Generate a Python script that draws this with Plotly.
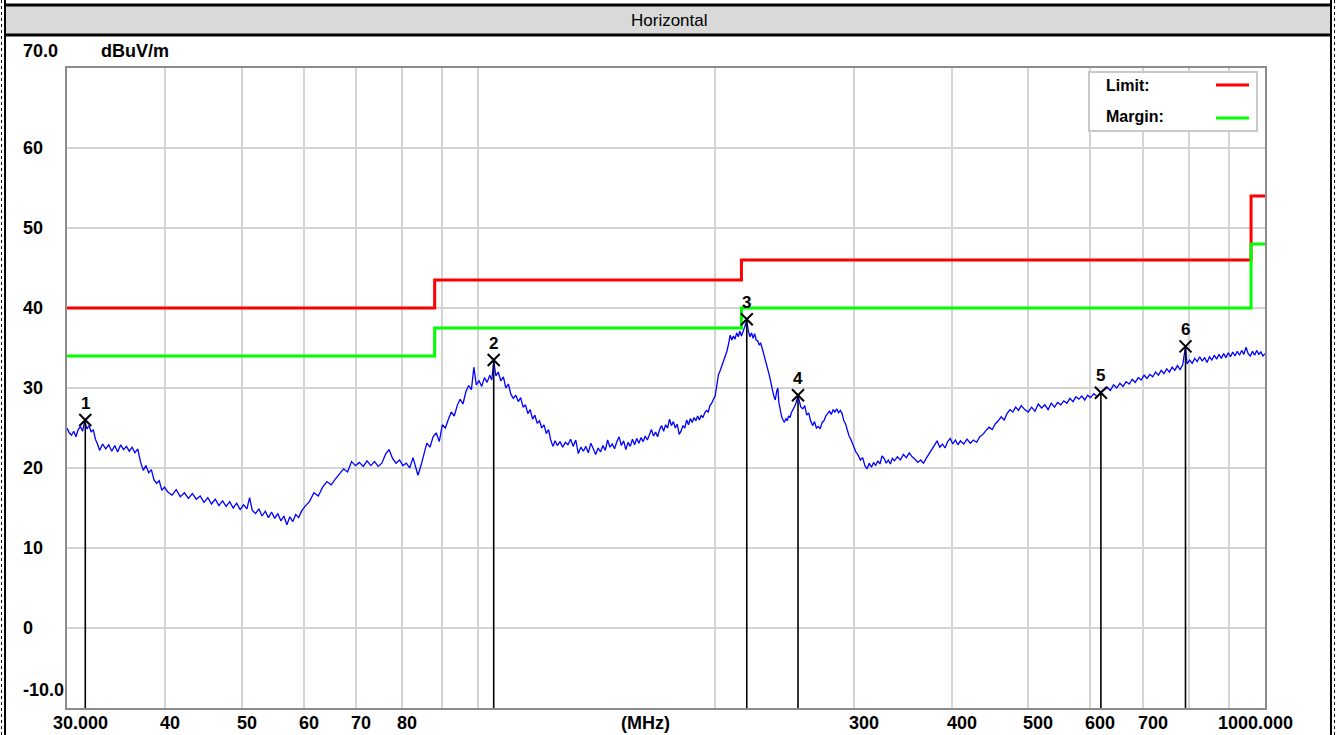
import math
import plotly.graph_objects as go

# ---------------- data ----------------
limit_freq = [30, 88, 216, 960, 1000]
limit_level = [40, 43.5, 46, 54, 54]
margin_level = [34, 37.5, 40, 48, 48]

marker_freq = [31.65, 104.6, 219.4, 254.9, 618.6, 792.4]
marker_level = [26.0, 33.5, 38.6, 29.1, 29.4, 35.2]
marker_labels = ["1", "2", "3", "4", "5", "6"]

x_grid = [40, 50, 60, 70, 80, 90, 100, 200, 300, 400, 500, 600, 700, 800, 900]
x_tick_vals = [30, 40, 50, 60, 70, 80, 300, 400, 500, 600, 700, 1000]
x_tick_text = ["30.000", "40", "50", "60", "70", "80", "300", "400", "500", "600", "700", "1000.000"]
y_grid = [-10, 0, 10, 20, 30, 40, 50, 60, 70]
y_tick_vals = [70, 60, 50, 40, 30, 20, 10, 0, -10]
y_tick_text = ["70.0", "60", "50", "40", "30", "20", "10", "0", "-10.0"]

trace_freq = [
    30.0, 30.2, 30.4, 30.6, 30.8, 31.0, 31.2, 31.4, 31.6, 31.8,
    32.0, 32.2, 32.4, 32.6, 32.8, 33.0, 33.3, 33.6, 33.9, 34.2,
    34.5, 34.8, 35.1, 35.4, 35.7, 36.0, 36.3, 36.6, 36.9, 37.2,
    37.5, 37.8, 38.1, 38.4, 38.7, 39.0, 39.3, 39.6, 39.9,
    40.3, 40.8, 41.3, 41.8, 42.3, 42.8, 43.3, 43.8, 44.3, 44.8,
    45.3, 45.8, 46.3, 46.8, 47.3, 47.8, 48.3, 48.8, 49.3, 49.8,
    50.3, 50.8, 51.2, 51.6, 52.1, 52.6, 53.1, 53.6, 54.1, 54.6,
    55.1, 55.6, 56.1, 56.6, 57.1, 57.6, 58.1, 58.6, 59.1, 59.6,
    60.2, 61.0, 61.8, 62.6, 63.4, 64.2, 65.0, 65.8, 66.6, 67.4,
    68.2, 69.0, 69.8, 70.6, 71.4, 72.2, 73.0, 73.8, 74.6, 75.4,
    76.2, 77.0, 77.8, 78.6, 79.4, 80.2, 81.0, 81.8, 82.6, 83.4,
    83.8, 84.6, 85.2, 86.0, 86.8, 87.6, 88.4,
    89.2, 90.0, 90.8, 91.6, 92.4, 93.2, 94.0, 94.8, 95.6, 96.4,
    97.2, 98.0, 98.7, 99.4, 100.2, 101.0, 101.8, 102.6, 103.4, 104.0,
    104.6, 105.3, 106.0, 106.8, 107.6, 108.4, 109.2, 110.0, 110.8, 111.6,
    112.4, 113.2, 114.0, 114.8, 115.6, 116.4, 117.2, 118.0, 118.8, 119.6,
    120.4, 121.2, 122.0, 122.8, 123.6, 124.4, 125.2, 126.0,
    127, 128, 129, 130, 131, 132, 133, 134, 135, 136,
    137, 138, 139, 140, 141, 142, 143, 144, 145, 146,
    147, 148, 149, 150, 151, 152, 153, 154, 155, 156,
    157, 158, 159, 160, 161, 162, 163, 164, 165, 166,
    167, 168, 169, 170, 171, 172, 173, 174, 175, 176,
    177, 178, 179, 180, 181, 182, 183, 184, 185, 186,
    187, 188, 189, 190, 191, 192, 193, 194, 195, 196,
    197, 198, 199, 200, 201, 202, 203, 204, 205, 206,
    207, 208, 209, 210, 211, 212, 213, 214, 215, 216,
    217.0, 218.0, 219.4, 220.5, 221.5, 222.5, 223.5, 224.5, 225.5, 226.5,
    227.5, 228.5, 229.5, 230.5, 231.5, 232.5, 233.5, 234.5, 235.5, 236.5,
    237.5, 238.5, 239.5, 240.3, 241.0, 242.0, 243.0, 244.0, 245.0, 246.0,
    247.0, 248.0, 249.0, 250.0, 251.0, 252.0, 253.0, 254.0, 255.0, 256.0,
    257.0, 258.5, 260.0, 261.5, 263.0, 264.5, 266.0, 267.5, 269.0, 270.5,
    272.0, 273.5, 275.0, 276.5, 278.0, 279.5, 281.0, 282.5, 284.0, 285.5,
    287.0, 288.5, 290.0, 291.5, 293.0, 294.5, 296.0, 297.5, 299.0, 300.5,
    302, 304, 306, 308, 310, 312, 314, 316, 318, 320,
    322, 324, 326, 328, 330, 332, 334, 336, 338, 341,
    344, 347, 350, 353, 356, 359, 362, 365, 368, 371,
    374, 377, 380, 383, 386, 389, 392, 395, 398, 401,
    404, 407, 410, 414, 418, 422, 426, 430, 434, 438,
    442, 446, 450, 454, 458, 462, 466, 470, 474, 478,
    482, 486, 490, 495, 500, 505, 510, 515, 520, 525,
    530, 535, 540, 545, 550, 555, 560, 565, 570, 575,
    580, 585, 590, 595, 600, 606, 612, 618, 624, 630,
    636, 642, 648, 654, 660, 666, 672, 678, 684, 690,
    696, 702, 708, 714, 720, 726, 732, 738, 744, 750,
    756, 762, 768, 774, 780, 786, 792.4, 796, 802, 808,
    814, 820, 826, 832, 838, 844, 850, 856, 862, 868,
    874, 880, 886, 892, 898, 904, 910, 916, 922, 928,
    934, 940, 946, 952, 958, 964, 970, 976, 982, 988,
    994, 1000,
]

trace_level = [
    25.0, 24.4, 24.1, 24.6, 23.9, 24.8, 25.2, 24.6, 25.9, 24.9,
    25.3, 24.5, 24.8, 23.6, 23.0, 22.2, 23.0, 22.4, 22.9, 22.1,
    22.8, 22.0, 22.9, 22.3, 22.7, 22.1, 22.6, 21.9, 22.4, 20.8,
    19.7, 20.3, 19.4, 19.8, 18.5, 18.1, 18.4, 17.2, 17.6,
    17.0, 16.6, 17.3, 16.4, 16.9, 16.2, 16.8, 16.1, 16.5, 15.7,
    16.3, 15.5, 16.1, 15.3, 15.9, 15.2, 15.8, 15.0, 15.6, 14.8,
    15.4, 14.9, 16.3, 14.7, 14.3, 14.9, 14.0, 14.6, 13.8, 14.5,
    13.7, 14.3, 13.4, 14.0, 12.9, 13.9, 13.3, 14.2, 13.8, 14.6,
    15.2, 15.8, 16.9, 16.5, 17.6, 18.3, 17.9, 18.6, 19.3, 19.9,
    19.5, 20.8, 20.3, 20.7, 20.2, 20.9, 20.3, 20.8, 20.2, 20.6,
    21.7, 22.3, 21.2, 20.6, 21.0, 20.3, 20.6, 20.0, 21.3, 19.9,
    19.1, 20.4, 21.6, 23.1, 22.6, 23.9, 24.4,
    23.3, 25.4, 25.0, 26.1, 27.0, 26.5, 27.8, 28.6, 28.0, 29.5,
    30.3, 29.8, 32.6, 30.4, 30.9, 30.2, 31.3, 30.7, 31.6, 31.0,
    33.3, 31.5, 32.0, 30.9, 31.4, 30.0, 30.5, 29.2, 28.7, 29.1,
    28.3, 28.8, 27.6, 27.9, 26.8, 27.3, 26.1, 26.6, 25.6, 25.9,
    25.0, 25.4, 24.3, 24.8, 23.5, 22.7, 23.4, 22.8,
    23.3, 22.6, 23.2, 22.9, 23.6, 22.7, 23.5, 21.8, 22.6, 22.1,
    22.7, 21.9, 23.1, 22.4, 21.7, 22.5, 22.0, 22.8, 22.2, 23.5,
    22.6, 23.0, 22.4, 23.3, 23.9, 22.8, 23.4, 22.3, 23.2, 22.7,
    23.6, 22.9, 23.7, 23.1, 23.8, 23.3, 24.0, 23.5, 24.2, 24.8,
    24.0, 24.5, 23.9, 24.8, 25.3, 24.6, 25.4, 25.0, 26.1, 25.3,
    25.8, 25.0, 25.5, 24.2, 24.6, 25.3, 25.0, 26.0, 25.4, 26.2,
    25.7, 26.3, 25.9, 26.5, 26.0, 26.6, 26.3, 26.9, 27.2, 27.0,
    27.8, 28.1, 28.6, 29.0, 30.4, 31.7, 32.2, 32.8, 33.4, 34.0,
    34.6, 35.5, 36.6, 36.0, 36.5, 36.1, 36.9, 36.4, 37.1, 36.5,
    37.2, 37.6, 38.4, 37.0, 36.4, 36.9, 36.2, 36.8, 36.0, 35.9,
    35.4, 35.6, 35.0, 34.2, 33.4, 32.9, 32.2, 31.5, 30.4, 29.8,
    29.0, 28.5, 29.6, 30.0, 28.2, 27.3, 26.4, 26.0, 25.7, 26.2,
    25.9, 26.5, 26.3, 26.9, 27.2, 27.6, 27.9, 28.5, 29.0, 28.3,
    27.6, 27.4, 27.8, 26.6, 26.9, 25.9, 25.3, 25.8, 25.0, 25.2,
    24.9, 25.7, 25.9, 26.5, 26.8, 27.1, 26.7, 27.3, 27.0, 27.4,
    26.9, 27.2, 26.8, 25.9, 25.5, 24.6, 24.0, 23.6, 23.1, 22.5,
    22.0, 21.6, 21.0, 21.3, 20.3, 19.9, 20.6, 20.1, 20.7, 20.3,
    20.9, 20.5, 21.5, 21.2, 20.6, 21.0, 20.5, 21.2, 20.9, 21.4,
    21.0, 21.7, 21.3, 21.9, 21.4, 21.1, 20.7, 21.0, 20.6, 21.2,
    21.8, 22.3, 22.9, 23.4, 22.6, 23.0, 22.5, 23.3, 23.7, 23.0,
    23.5, 22.9, 23.4, 23.0, 23.6, 23.1, 23.5, 23.2, 23.9, 24.2,
    24.7, 25.1, 24.8, 25.5, 25.9, 26.4, 26.0, 26.8, 27.3, 27.0,
    27.6, 27.2, 27.8, 27.3, 27.0, 27.6, 27.1, 28.0, 27.5, 27.9,
    27.3, 28.1, 27.6, 28.2, 27.9, 28.4, 28.1, 28.7, 28.3, 28.9,
    28.6, 29.0, 28.5, 29.1, 28.8, 29.3, 28.9, 29.5, 29.8, 30.1,
    29.7, 30.4, 30.0, 30.6, 30.2, 30.8, 30.5, 31.1, 30.7, 31.3,
    31.0, 31.6, 31.2, 31.7, 31.4, 32.0, 31.6, 32.2, 31.8, 32.4,
    32.0, 32.6, 32.2, 32.8, 32.3, 32.9, 35.2, 33.0, 33.5, 33.1,
    33.7, 33.3, 33.9, 33.4, 33.8, 33.2, 33.9, 33.5, 34.1, 33.6,
    34.2, 33.7, 34.3, 33.8, 34.4, 33.9, 34.5, 34.0, 34.6, 34.1,
    34.7, 34.2, 35.1, 34.3, 34.0, 34.6, 34.1, 34.7, 34.2, 34.5,
    34.0, 34.3,
]

# ---------------- layout constants ----------------
W, H = 1338, 735
L, R, T, B = 67, 73, 68, 27
PW, PH = W - L - R, H - T - B
FONT = "Liberation Sans, Arial, sans-serif"
LABEL_SIZE = 18


def px(xp):
    return (xp - L) / PW


def py(yp):
    return (H - B - yp) / PH


fig = go.Figure()

# measurement trace
fig.add_trace(go.Scatter(x=trace_freq, y=trace_level, mode="lines",
                         line=dict(color="#0000ff", width=1.3), hoverinfo="skip"))

# limit + margin
fig.add_trace(go.Scatter(x=limit_freq, y=limit_level, mode="lines", line_shape="hv",
                         line=dict(color="#ff0000", width=3), hoverinfo="skip"))
fig.add_trace(go.Scatter(x=limit_freq, y=margin_level, mode="lines", line_shape="hv",
                         line=dict(color="#00ff00", width=3), hoverinfo="skip"))

# marker drop lines
y_bottom = min(y_grid)
for f, v in zip(marker_freq, marker_level):
    fig.add_trace(go.Scatter(x=[f, f], y=[y_bottom, v], mode="lines",
                             line=dict(color="#000000", width=1.6), hoverinfo="skip"))

# marker crosses
fig.add_trace(go.Scatter(x=marker_freq, y=marker_level, mode="markers",
                         marker=dict(symbol="x-thin", size=12,
                                     line=dict(color="#000000", width=2)),
                         hoverinfo="skip"))

annotations = []
for f, v, lab in zip(marker_freq, marker_level, marker_labels):
    annotations.append(dict(x=math.log10(f), y=v, xref="x", yref="y", text="<b>%s</b>" % lab,
                            showarrow=False, yshift=17, xanchor="center", yanchor="middle",
                            font=dict(family=FONT, size=17, color="#000000")))

# x tick labels
for v, t in zip(x_tick_vals, x_tick_text):
    if t == "30.000":
        xa, xs = "center", 13
    elif t == "1000.000":
        xa, xs = "center", -10
    else:
        xa, xs = "left", -7
    annotations.append(dict(x=math.log10(v), y=py(723), xref="x", yref="paper",
                            text="<b>%s</b>" % t, showarrow=False, xanchor=xa, xshift=xs,
                            yanchor="middle",
                            font=dict(family=FONT, size=LABEL_SIZE, color="#000000")))
annotations.append(dict(x=px(645), y=py(723), xref="paper", yref="paper", text="<b>(MHz)</b>",
                        showarrow=False, xanchor="center", yanchor="middle",
                        font=dict(family=FONT, size=LABEL_SIZE, color="#000000")))

# y tick labels
for v, t in zip(y_tick_vals, y_tick_text):
    if t == "70.0":
        yy, yr = py(51), "paper"
    elif t == "-10.0":
        yy, yr = py(690), "paper"
    else:
        yy, yr = v, "y"
    annotations.append(dict(x=px(21), y=yy, xref="paper", yref=yr, text="<b>%s</b>" % t,
                            showarrow=False, xanchor="left", yanchor="middle",
                            font=dict(family=FONT, size=LABEL_SIZE, color="#000000")))
annotations.append(dict(x=px(99), y=py(51), xref="paper", yref="paper", text="<b>dBuV/m</b>",
                        showarrow=False, xanchor="left", yanchor="middle",
                        font=dict(family=FONT, size=LABEL_SIZE, color="#000000")))

# title
annotations.append(dict(x=px(669), y=py(20), xref="paper", yref="paper", text="Horizontal",
                        showarrow=False, xanchor="center", yanchor="middle",
                        font=dict(family=FONT, size=17, color="#000000")))

# legend texts
annotations.append(dict(x=px(1104), y=py(85), xref="paper", yref="paper", text="<b>Limit:</b>",
                        showarrow=False, xanchor="left", yanchor="middle",
                        font=dict(family=FONT, size=16, color="#000000")))
annotations.append(dict(x=px(1104), y=py(117), xref="paper", yref="paper", text="<b>Margin:</b>",
                        showarrow=False, xanchor="left", yanchor="middle",
                        font=dict(family=FONT, size=16, color="#000000")))

shapes = [
    # title band
    dict(type="rect", xref="paper", yref="paper", x0=px(4), x1=px(1331), y0=py(35), y1=py(5),
         fillcolor="#d9d9d9", line=dict(width=0), layer="below"),
    dict(type="line", xref="paper", yref="paper", x0=px(4), x1=px(1331), y0=py(5), y1=py(5),
         line=dict(color="#000000", width=3)),
    dict(type="line", xref="paper", yref="paper", x0=px(4), x1=px(1331), y0=py(35), y1=py(35),
         line=dict(color="#000000", width=3)),
    # outer left / right borders
    dict(type="line", xref="paper", yref="paper", x0=px(5), x1=px(5), y0=py(0), y1=py(735),
         line=dict(color="#000000", width=2)),
    dict(type="line", xref="paper", yref="paper", x0=px(1.5), x1=px(1.5), y0=py(0), y1=py(735),
         line=dict(color="#000000", width=1, dash="dot")),
    dict(type="line", xref="paper", yref="paper", x0=px(1331), x1=px(1331), y0=py(0), y1=py(735),
         line=dict(color="#000000", width=2)),
    dict(type="line", xref="paper", yref="paper", x0=px(1334.5), x1=px(1334.5), y0=py(0), y1=py(735),
         line=dict(color="#000000", width=1, dash="dot")),
    # legend box
    dict(type="rect", xref="paper", yref="paper", x0=px(1089), x1=px(1257), y0=py(131), y1=py(72),
         fillcolor="#ffffff", line=dict(color="#c8c8c8", width=2), layer="above"),
    dict(type="line", xref="paper", yref="paper", x0=px(1216), x1=px(1249), y0=py(85), y1=py(85),
         line=dict(color="#ff0000", width=3), layer="above"),
    dict(type="line", xref="paper", yref="paper", x0=px(1216), x1=px(1249), y0=py(118), y1=py(118),
         line=dict(color="#00ff00", width=3), layer="above"),
]

fig.update_layout(
    width=W, height=H,
    margin=dict(l=L, r=R, t=T, b=B, pad=0),
    paper_bgcolor="#ffffff", plot_bgcolor="#ffffff",
    showlegend=False,
    annotations=annotations,
    shapes=shapes,
    xaxis=dict(type="log", range=[math.log10(30), math.log10(1000)],
               tickvals=x_grid, showticklabels=False, ticks="",
               showgrid=True, gridcolor="#d4d4d4", gridwidth=2,
               showline=True, linecolor="#8c8c8c", linewidth=2, mirror=True,
               zeroline=False, fixedrange=True),
    yaxis=dict(range=[-10, 70], tickvals=y_grid, showticklabels=False, ticks="",
               showgrid=True, gridcolor="#d4d4d4", gridwidth=2,
               showline=True, linecolor="#8c8c8c", linewidth=2, mirror=True,
               zeroline=False, fixedrange=True),
)

fig.write_html(
    "out.html",
    config={"displayModeBar": False},
    post_script="document.body.style.margin='0px';document.body.style.overflow='hidden';",
)
